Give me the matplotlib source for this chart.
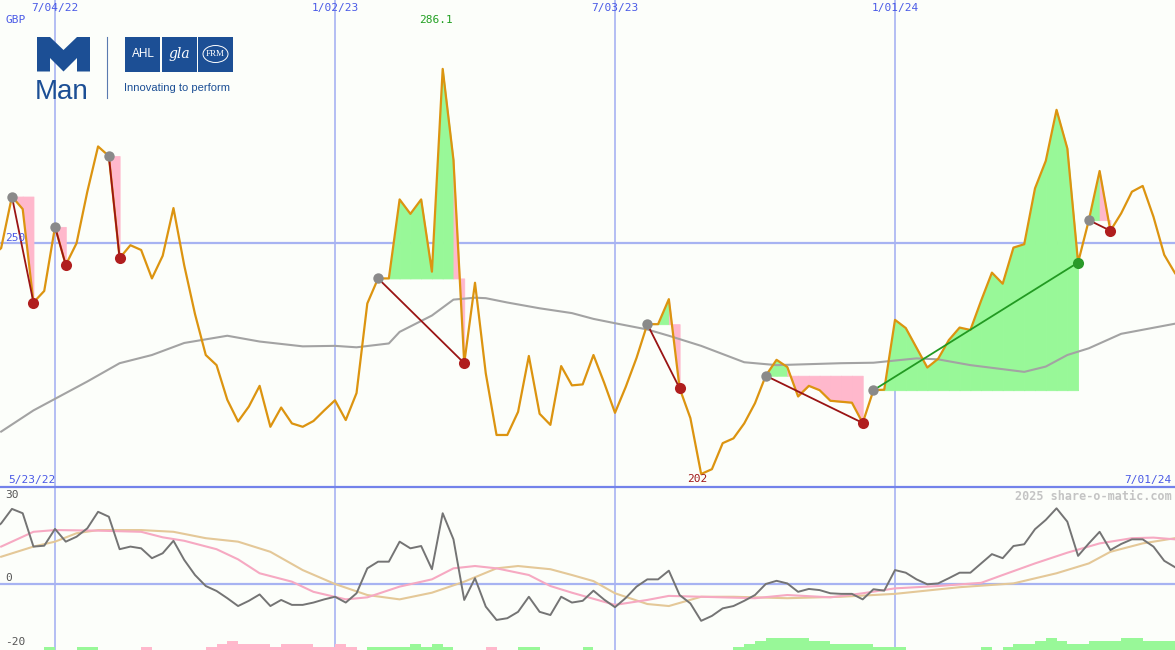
import matplotlib
matplotlib.use("Agg")
import matplotlib.pyplot as plt
from matplotlib.patches import Polygon, Rectangle, Ellipse
import numpy as np
import pandas as pd

# weekly closes, GBP, from 23 May 2022
start = "2022-05-23"
price = [246.9, 248.9, 259.6, 257.0, 237.6, 240.0, 253.3, 245.4, 249.9, 260.6,
         270.0, 268.0, 246.8, 249.5, 248.5, 242.6, 247.3, 257.2, 245.3, 235.2,
         226.7, 224.6, 217.4, 212.9, 216.0, 220.3, 211.8, 215.8, 212.5, 211.8,
         213.0, 215.2, 217.3, 213.2, 218.8, 237.4, 242.6, 242.6, 259.0, 256.0,
         259.0, 244.0, 286.1, 267.2, 225.0, 241.7, 222.9, 210.1, 210.1, 214.9,
         226.5, 214.5, 212.2, 224.4, 220.4, 220.6, 226.7, 220.9, 214.7, 220.1,
         226.1, 233.1, 233.1, 238.3, 219.8, 213.6, 202.0, 203.0, 208.4, 209.4,
         212.5, 216.7, 222.4, 225.7, 224.2, 218.1, 220.3, 219.4, 217.2, 217.0,
         216.8, 212.6, 219.4, 219.5, 234.0, 232.3, 228.2, 224.1, 225.9, 229.8,
         232.4, 231.9, 238.0, 243.8, 241.5, 249.0, 249.7, 261.3, 267.0, 277.6,
         269.6, 245.9, 254.7, 264.9, 252.5, 256.1, 260.6, 261.8, 255.4, 247.5,
         243.7]

# slow moving average (week index, value)
ma_week = [1, 4, 7, 9, 12, 15, 18, 22, 25, 29, 32, 34, 37, 38, 41, 43, 45, 46, 48,
           51, 54, 56, 58, 61, 63, 66, 70, 73, 79, 82, 86, 88, 91, 96, 98, 100, 102,
           105, 110]
ma_val = [210.8, 215.2, 218.8, 221.2, 225.0, 226.7, 229.2, 230.7, 229.5, 228.5,
          228.6, 228.3, 229.1, 231.5, 234.9, 238.2, 238.6, 238.5, 237.6, 236.4,
          235.4, 234.2, 233.3, 232.0, 230.7, 228.6, 225.2, 224.6, 225.0, 225.1,
          226.0, 225.8, 224.6, 223.2, 224.3, 226.7, 228.1, 231.1, 233.2]

# trades: (entry week, exit week)
trades = [(2, 4), (6, 7), (11, 12), (36, 44), (61, 64), (72, 81), (82, 101), (102, 104)]

# oscillator
osc = [18.0, 20.9, 25.9, 24.4, 12.9, 13.2, 19.0, 14.6, 16.3, 19.2,
       24.9, 23.2, 12.0, 12.9, 12.3, 8.9, 10.6, 14.9, 8.3, 3.1,
       -0.7, -2.4, -4.9, -7.6, -5.8, -3.6, -7.6, -5.5, -7.2, -7.2,
       -6.4, -5.3, -4.4, -6.4, -3.2, 5.4, 7.7, 7.7, 14.6, 12.3,
       13.1, 5.1, 24.4, 15.4, -5.5, 2.0, -7.8, -12.4, -11.8, -9.6,
       -4.4, -9.6, -10.7, -4.4, -6.4, -5.8, -2.3, -5.4, -8.0, -4.8,
       -0.9, 1.6, 1.6, 4.6, -3.8, -6.7, -12.7, -11.0, -8.4, -7.6,
       -5.8, -3.8, 0.0, 1.1, 0.2, -2.7, -1.7, -2.1, -3.2, -3.4,
       -3.4, -5.3, -1.8, -2.3, 4.8, 3.9, 1.6, -0.1, 0.2, 2.0,
       3.9, 3.9, 7.1, 10.3, 8.9, 13.1, 13.7, 18.9, 22.1, 26.1,
       21.5, 9.7, 14.0, 18.0, 11.7, 13.8, 15.4, 15.4, 12.9, 8.0,
       5.8]

sig1_week = [1, 4, 6, 10, 14, 16, 18, 21, 23, 25, 28, 30, 33, 35, 38, 41, 43, 45, 47,
             50, 52, 54, 58, 61, 63, 66, 71, 74, 78, 81, 84, 88, 92, 94, 97, 100, 103,
             106, 108, 110]
sig1_val = [12.9, 18.0, 18.6, 18.4, 18.0, 16.1, 14.9, 12.0, 8.5, 3.7, 0.8, -2.7, -5.3,
            -4.6, -0.9, 1.6, 5.4, 6.2, 5.4, 3.1, -0.7, -3.0, -7.2, -5.5, -4.1, -4.4,
            -4.9, -3.8, -4.6, -3.2, -1.5, -0.7, 0.4, 3.1, 7.1, 10.8, 14.0, 15.8, 16.0,
            15.4]
sig2_week = [1, 4, 6, 8, 10, 14, 17, 20, 23, 26, 29, 32, 35, 38, 41, 44, 47, 49, 52,
             54, 56, 58, 61, 63, 66, 69, 74, 79, 84, 90, 95, 99, 102, 104, 107, 110]
sig2_val = [9.4, 12.9, 14.6, 17.5, 18.6, 18.6, 18.0, 15.8, 14.6, 11.1, 4.8, 0.0, -3.8,
            -5.3, -3.0, 0.8, 5.4, 6.2, 5.1, 3.1, 1.0, -3.2, -6.9, -7.6, -4.4, -4.4,
            -4.9, -4.4, -3.4, -1.1, 0.2, 3.7, 7.1, 11.1, 14.0, 15.8]

# histogram levels at the bottom (+ green, - pink)
hist = [0, 0, 0, 0, 0, 1, 0, 0, 1, 1,
        0, 0, 0, 0, -1, 0, 0, 0, 0, 0,
        -1, -2, -3, -2, -2, -2, -1, -2, -2, -2,
        -1, -1, -2, -1, 0, 1, 1, 1, 1, 2,
        1, 2, 1, 0, 0, 0, -1, 0, 0, 1,
        1, 0, 0, 0, 0, 1, 0, 0, 0, 0,
        0, 0, 0, 0, 0, 0, 0, 0, 0, 1,
        2, 3, 4, 4, 4, 4, 3, 3, 2, 2,
        2, 2, 1, 1, 1, 0, 0, 0, 0, 0,
        0, 0, 1, 0, 1, 2, 2, 3, 4, 3,
        2, 2, 3, 3, 3, 4, 4, 3, 3, 3,
        0]

grid_dates = ["2022-07-04", "2023-01-02", "2023-07-03", "2024-01-01"]

dates = pd.date_range(start, periods=len(price), freq="7D")
price = np.array(price)
ma_x = dates[ma_week]
week = pd.Timedelta(days=7)

W, H = 1175, 650
fig = plt.figure(figsize=(W / 100, H / 100), dpi=100)
bg = "#fcfefa"
fig.patch.set_facecolor(bg)

split = 163 / H
ax = fig.add_axes([0, split, 1, 1 - split])
ax2 = fig.add_axes([0, 0, 1, split])
xlo = dates[0] + pd.Timedelta(days=6.25)
xhi = dates[-1]

grid_col = "#a7b3f2"
lab_col = "#4a5ae6"
mono = "DejaVu Sans Mono"

for a in (ax, ax2):
    a.set_facecolor(bg)
    a.set_xlim(xlo, xhi)
    for s in a.spines.values():
        s.set_visible(False)
    a.set_xticks([])
    a.set_yticks([])
    for d in grid_dates:
        a.axvline(pd.Timestamp(d), color=grid_col, lw=1.2, zorder=1)

# ---- main panel
ax.set_ylim(199.3, 300.4)
ax.axhline(250, color=grid_col, lw=1.6, zorder=1)

green_fill = "#98f898"
pink_fill = "#ffb8cc"
for e, x_ in trades:
    lvl = price[e]
    for i in range(e, x_):
        col = green_fill if price[i + 1] > lvl else pink_fill
        ax.fill_between(dates[i:i + 2], price[i:i + 2], lvl, facecolor=col,
                        edgecolor=col, lw=0.6, zorder=2)

ax.plot(ma_x, ma_val, color="#a3a3a3", lw=1.5, zorder=3)
ax.plot(dates, price, color="#dc9410", lw=1.6, zorder=4)

for e, x_ in trades:
    win = price[x_] > price[e]
    lc = "#229a22" if win else "#9a1414"
    ax.plot([dates[e], dates[x_]], [price[e], price[x_]], color=lc, lw=1.3, zorder=5)
    ax.plot(dates[e], price[e], "o", ms=7.5, color="#8a8a8a", mec="none", zorder=6)
    ax.plot(dates[x_], price[x_], "o", ms=8, color="#2a9a2a" if win else "#b01e1e",
            mec="none", zorder=6)

# ---- lower panel
ax2.set_ylim(-22.76, 33.45)
ax2.axhline(0, color=grid_col, lw=1.6, zorder=1)
lv = np.array(hist)
ax2.bar(dates, np.abs(lv) * 1.04, width=week, align="edge", bottom=-22.76,
        color=np.where(lv > 0, green_fill, pink_fill), lw=0, zorder=2)
ax2.plot(dates[sig2_week], sig2_val, color="#e4c898", lw=1.5, zorder=3)
ax2.plot(dates[sig1_week], sig1_val, color="#f6a9c2", lw=1.5, zorder=3)
ax2.plot(dates, osc, color="#747474", lw=1.4, zorder=4)

# ---- overlay in pixel coords
ov = fig.add_axes([0, 0, 1, 1])
ov.set_xlim(0, W)
ov.set_ylim(H, 0)
ov.axis("off")
ov.patch.set_alpha(0)

x0_num = matplotlib.dates.date2num(xlo)
x1_num = matplotlib.dates.date2num(xhi)
for d in grid_dates:
    t = pd.Timestamp(d)
    px = (matplotlib.dates.date2num(t) - x0_num) / (x1_num - x0_num) * W
    ov.text(px, 8, f"{t.month}/{t.strftime('%d/%y')}", ha="center", va="center",
            fontsize=8, color=lab_col, family=mono)

ov.axhline(487, color="#7382ea", lw=1.6)
ov.text(5, 20, "GBP", fontsize=8, color=lab_col, family=mono, va="center")
ov.text(5, 238, "250", fontsize=8, color=lab_col, family=mono, va="center", zorder=0)
ov.text(8, 480, "5/23/22", fontsize=8, color=lab_col, family=mono, va="center")
ov.text(1171, 480, "7/01/24", fontsize=8, color=lab_col, family=mono, va="center", ha="right")
ov.text(436, 20, "286.1", fontsize=8, color="#22a022", family=mono, va="center", ha="center")
ov.text(697, 479, "202", fontsize=8, color="#a01818", family=mono, va="center", ha="center")
ov.text(1172, 496, "2025 share-o-matic.com", fontsize=8.5, color="#c4c4c4", family=mono,
        weight="bold", va="center", ha="right")
for v, y in (("30", 495), ("0", 578), ("-20", 642)):
    ov.text(5, y, v, fontsize=8, color="#555555", family=mono, va="center")

# logo
blue = "#1c4f95"
m = [(37, 71.5), (37, 37), (50, 37), (63.5, 50), (77, 37), (90, 37), (90, 71.5),
     (77, 71.5), (77, 58), (63.5, 71.5), (50, 58), (50, 71.5)]
ov.add_patch(Polygon(m, closed=True, color=blue, lw=0))
ov.text(35, 99, "Man", fontsize=20, color=blue, family="Liberation Sans", va="baseline")
ov.plot([107, 107], [37, 98], color="#5a7ab0", lw=0.8)
for x0 in (125, 161.5, 198):
    ov.add_patch(Rectangle((x0, 37), 35, 34.5, color=blue, lw=0))
ov.text(143, 54, "AHL", fontsize=8.5, color="white", family="Liberation Sans", ha="center", va="center")
ov.text(179, 54, "gla", fontsize=10, color="white", family="DejaVu Serif", style="italic",
        ha="center", va="center")
ov.add_patch(Ellipse((215.5, 54), 25, 17, fill=False, ec="white", lw=0.7))
ov.text(215.5, 54, "FRM", fontsize=6.5, color="white", family="Liberation Serif", ha="center", va="center")
ov.text(124, 88, "Innovating to perform", fontsize=8, color=blue, family="Liberation Sans", va="center")

fig.savefig("out.png", dpi=100, facecolor=bg)
